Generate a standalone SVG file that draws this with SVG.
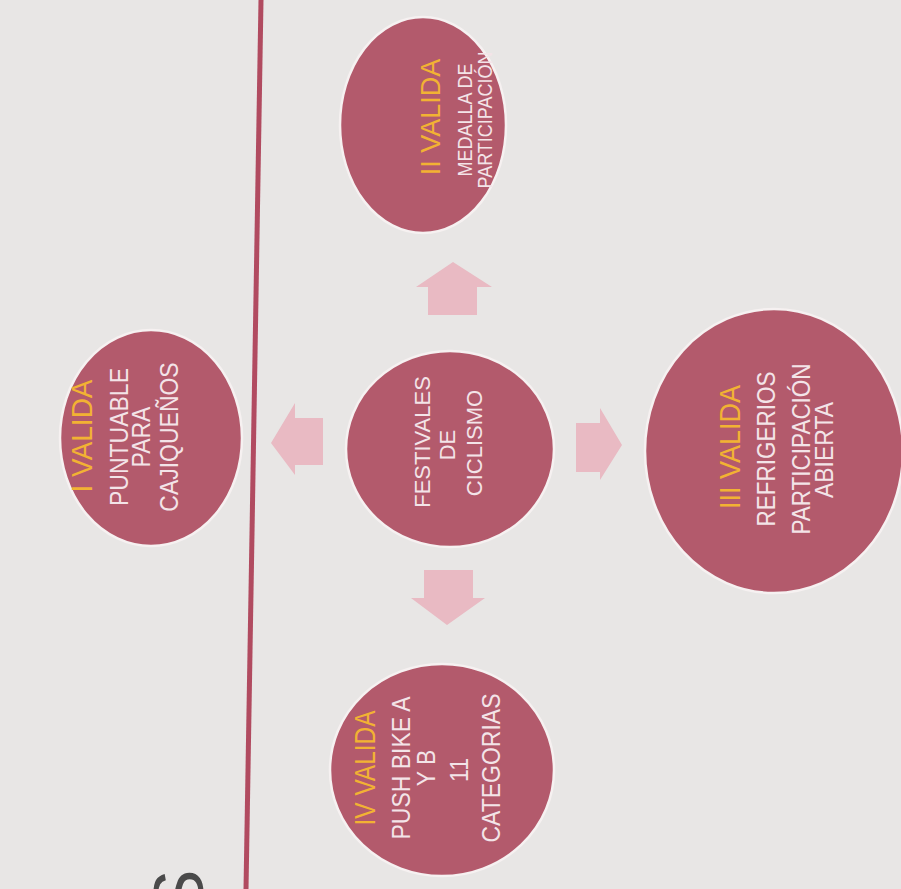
<svg xmlns="http://www.w3.org/2000/svg" width="901" height="889" viewBox="0 0 901 889">
<style>
.bg{fill:#e8e6e5}
.node{fill:#b35a6c;stroke:#f6f1f1;stroke-width:2.5}
.arrow{fill:#e9bac3}
.t{font-family:"Liberation Sans",Arial,sans-serif;text-anchor:middle}
.h{fill:#f2b233;font-size:27px}
.b{fill:#f3e4e8;font-size:23px}
.rule{stroke:#b14b60;stroke-width:5;fill:none}
</style>
<rect class="bg" x="0" y="0" width="901" height="889"/>
<line class="rule" x1="261" y1="0" x2="246" y2="889"/>
<text class="t" transform="translate(203,893) rotate(-90)" style="font-size:70px;fill:#4a4a4a">S</text>
<g id="connectors">
<polygon class="arrow" points="453,262 492,287 477,287 477,315 428,315 428,287 416,287"/>
<polygon class="arrow" points="271,443 295,403 295,418 323,418 323,465 295,465 295,475"/>
<polygon class="arrow" points="622,445 600,408 600,423 576,423 576,472 600,472 600,480"/>
<polygon class="arrow" points="447,625 485,598 473,598 473,570 424,570 424,598 411,598"/>
</g>
<g id="node-ii">
<ellipse class="node" cx="423" cy="125" rx="83" ry="108"/>
<text class="t h" transform="translate(440,117) rotate(-90) scale(1,1.05)">II VALIDA</text>
<text class="t b" style="font-size:18px" transform="translate(472,120) rotate(-90) scale(1,1.08)">MEDALLA DE</text>
<text class="t b" style="font-size:18px" transform="translate(492,120) rotate(-90) scale(1,1.08)">PARTICIPACIÓN</text>
</g>
<g id="node-i">
<ellipse class="node" cx="151" cy="438" rx="91" ry="108"/>
<text class="t h" style="font-size:28px" transform="translate(92,436) rotate(-90) scale(1,1.08)">I VALIDA</text>
<text class="t b" transform="translate(128,437) rotate(-90) scale(1,1.15)">PUNTUABLE</text>
<text class="t b" transform="translate(150,437) rotate(-90) scale(1,1.15)">PARA</text>
<text class="t b" transform="translate(178,437) rotate(-90) scale(1,1.15)">CAJIQUEÑOS</text>
</g>
<g id="node-center">
<ellipse class="node" cx="450" cy="449" rx="104" ry="98"/>
<text class="t b" style="font-size:22px" transform="translate(430,442) rotate(-90)">FESTIVALES</text>
<text class="t b" style="font-size:22px" transform="translate(455,445) rotate(-90)">DE</text>
<text class="t b" style="font-size:22px" transform="translate(482,443) rotate(-90)">CICLISMO</text>
</g>
<g id="node-iii">
<ellipse class="node" cx="774" cy="451" rx="129" ry="142"/>
<text class="t h" transform="translate(740,447) rotate(-90) scale(1,1.08)">III VALIDA</text>
<text class="t b" style="font-size:22.5px" transform="translate(775,449) rotate(-90) scale(1,1.15)">REFRIGERIOS</text>
<text class="t b" style="font-size:22.5px" transform="translate(810,449) rotate(-90) scale(1,1.15)">PARTICIPACIÓN</text>
<text class="t b" transform="translate(833,450) rotate(-90) scale(1,1.1)">ABIERTA</text>
</g>
<g id="node-iv">
<ellipse class="node" cx="442" cy="770" rx="112" ry="106"/>
<text class="t h" textLength="115" lengthAdjust="spacingAndGlyphs" style="font-size:26px" transform="translate(375,768) rotate(-90) scale(1,1.1)">IV VALIDA</text>
<text class="t b" transform="translate(410,768) rotate(-90) scale(1,1.1)">PUSH BIKE A</text>
<text class="t b" transform="translate(435,768) rotate(-90) scale(1,1.1)">Y B</text>
<text class="t b" transform="translate(468,770) rotate(-90) scale(1,1.1)">11</text>
<text class="t b" transform="translate(500,768) rotate(-90) scale(1,1.15)">CATEGORIAS</text>
</g>
</svg>
